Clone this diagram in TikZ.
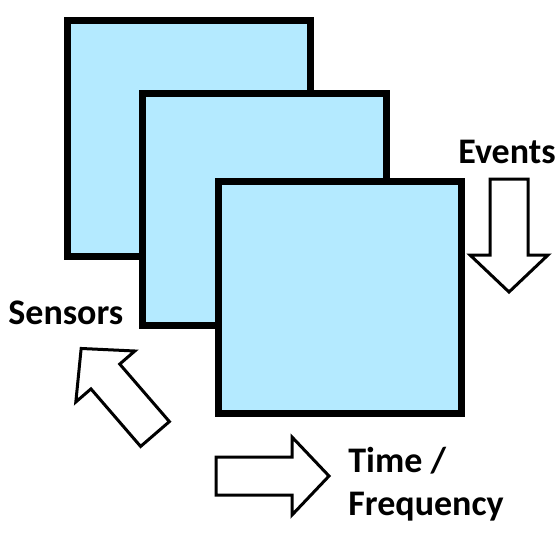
\documentclass[tikz,border=0pt]{standalone}
\usepackage{fontspec}
\setmainfont{Carlito}
\definecolor{layerblue}{RGB}{180,234,255}
\tikzset{
  layer/.style={draw=black, fill=layerblue, line width=3.5pt, line join=miter},
  hollowarrow/.style={draw=black, fill=white, line width=1.5pt, line join=miter},
  axislabel/.style={font=\fontsize{18}{21.5}\selectfont\bfseries, inner sep=0pt, anchor=base west}
}
% hollow block arrow, base of the shaft at the origin, pointing right
\newcommand{\blockarrow}{(0,-19) -- (76,-19) -- (76,-39) -- (113,0) -- (76,39) -- (76,19) -- (0,19) -- cycle}
\begin{document}
\begin{tikzpicture}[x=0.5pt, y=-0.5pt]
  \useasboundingbox (0,0) rectangle (560,537);
  % Three stacked layers (back to front)
  \draw[layer] (67,20)  rectangle (310,256);
  \draw[layer] (142,93) rectangle (386,325);
  \draw[layer] (218,181) rectangle (461,413);
  % Block arrows for the three axes
  \draw[hollowarrow, shift={(509,179)}, rotate=-90] \blockarrow;
  \draw[hollowarrow, shift={(216,476)}] \blockarrow;
  \draw[hollowarrow, shift={(155,434)}, rotate=130.8] \blockarrow;
  % Axis labels
  \node[axislabel] (events)  at (458,163) {Events};
  \node[axislabel] (sensors) at (8,324)   {Sensors};
  \node[axislabel] (time)    at (348,472) {Time /};
  \node[axislabel] (freq)    at (348,515) {Frequency};
\end{tikzpicture}
\end{document}
